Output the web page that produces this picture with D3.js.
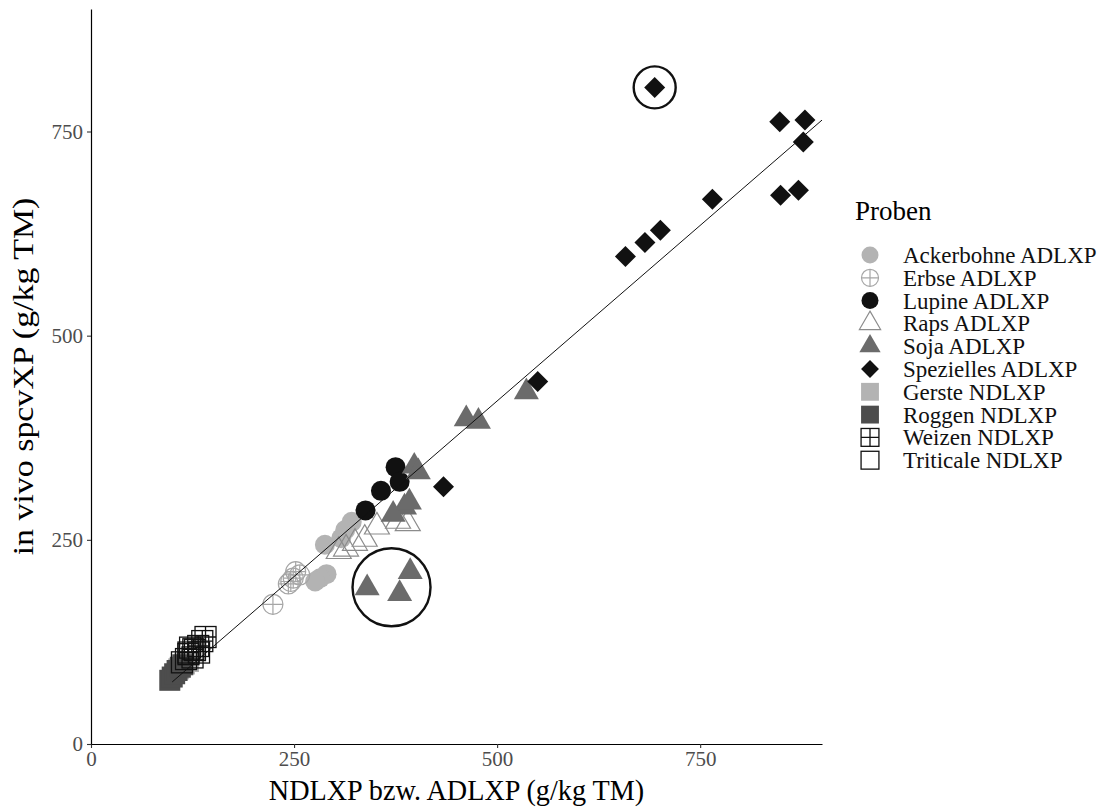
<!DOCTYPE html>
<html>
<head>
<meta charset="utf-8">
<script src="https://cdn.jsdelivr.net/npm/d3@7/dist/d3.min.js"></script>
<style>
	body { margin: 0; background: #fff; }
	svg { display: block; }
</style>
</head>
<body>
<div id="chart"></div>
<script>
// data: [NDLXP or ADLXP, in vivo spcvXP] in g/kg TM
var ackerbohne = [[321, 272], [313, 262], [308, 252], [288, 244], [290, 208], [282, 203], [276, 199]];
var erbse = [[257, 207], [252, 211], [249, 203], [246, 199], [243, 196], [224, 171]];
var lupine = [[375, 339], [380, 321], [357, 310], [338, 286]];
var raps = [[390, 270], [378, 273], [352, 266], [337, 251], [325, 246], [314, 239], [305, 236]];
var soja = [[398, 340], [403, 333], [386, 290], [372, 281], [392, 296], [340, 191], [393, 211], [380, 184], [462, 398], [477, 395], [536, 431]];
var spezielles = [[694, 804], [848, 762], [879, 764], [877, 737], [849, 672], [871, 678], [765, 667], [701, 629], [682, 614], [658, 597], [550, 444], [434, 315]];
var gerste = [[108, 92], [115, 98], [120, 101]];
var roggen = [[97, 78], [100, 82], [103, 86], [106, 90], [110, 94], [113, 97]];
var weizen = [[120, 112], [126, 116], [132, 120], [137, 126], [141, 131]];
var triticale = [[112, 100], [117, 104], [120, 110], [125, 106], [128, 115], [133, 112], [122, 118]];

var legendLabels = ["Ackerbohne ADLXP", "Erbse ADLXP", "Lupine ADLXP", "Raps ADLXP", "Soja ADLXP",
	"Spezielles ADLXP", "Gerste NDLXP", "Roggen NDLXP", "Weizen NDLXP", "Triticale NDLXP"];
var tickValues = [0, 250, 500, 750];
var fitIntercept = -10, fitSlope = 0.86, fitRange = [100, 900];
var highlightCenters = [[694, 804], [370, 192]];

// shape + colour for each series, same order as legend
var series = [
	{ data: ackerbohne, shape: "circle", fill: "#b3b3b3" },
	{ data: erbse, shape: "circleplus", stroke: "#a6a6a6" },
	{ data: lupine, shape: "circle", fill: "#111" },
	{ data: raps, shape: "opentriangle", stroke: "#8c8c8c" },
	{ data: soja, shape: "triangle", fill: "#6b6b6b" },
	{ data: spezielles, shape: "diamond", fill: "#111" },
	{ data: gerste, shape: "square", fill: "#b3b3b3" },
	{ data: roggen, shape: "square", fill: "#4d4d4d" },
	{ data: weizen, shape: "squareplus", stroke: "#111" },
	{ data: triticale, shape: "opensquare", stroke: "#111" }
];

var width = 1118, height = 812;
var margins = { left: 91, right: 296, top: 9, bottom: 68 };
var font = "'Liberation Serif', 'Times New Roman', serif";

var svg = d3.select("#chart").append("svg")
	.attr("width", width)
	.attr("height", height)
	.style("font-family", font);

var x = d3.scaleLinear().domain([0, 900]).range([margins.left, width - margins.right]);
var y = d3.scaleLinear().domain([0, 900]).range([height - margins.bottom, margins.top]);

function drawShape(g, s, k) {
	k = k || 1;
	var r = 10 * k;
	if (s.shape === "circle") {
		g.append("circle").attr("r", r).attr("fill", s.fill);
	} else if (s.shape === "circleplus") {
		g.append("circle").attr("r", r).attr("fill", "none").attr("stroke", s.stroke).attr("stroke-width", 1.2);
		g.append("path").attr("d", "M" + (-r) + ",0H" + r + "M0," + (-r) + "V" + r)
			.attr("stroke", s.stroke).attr("stroke-width", 1.2);
	} else if (s.shape === "triangle" || s.shape === "opentriangle") {
		var side = 25 * k, h = side * Math.sqrt(3) / 2;
		var d = "M0," + (-2 * h / 3) + "L" + (side / 2) + "," + (h / 3) + "L" + (-side / 2) + "," + (h / 3) + "Z";
		if (s.shape === "triangle") {
			g.append("path").attr("d", d).attr("fill", s.fill);
		} else {
			g.append("path").attr("d", d).attr("fill", "none").attr("stroke", s.stroke).attr("stroke-width", 1.2);
		}
	} else if (s.shape === "diamond") {
		var q = 10.5 * k;
		g.append("path").attr("d", "M0," + (-q) + "L" + q + ",0L0," + q + "L" + (-q) + ",0Z").attr("fill", s.fill);
	} else {
		var a = 10.5 * k;
		if (s.shape === "square") {
			g.append("rect").attr("x", -a).attr("y", -a).attr("width", 2 * a).attr("height", 2 * a).attr("fill", s.fill);
		} else {
			g.append("rect").attr("x", -a).attr("y", -a).attr("width", 2 * a).attr("height", 2 * a)
				.attr("fill", "none").attr("stroke", s.stroke).attr("stroke-width", 1.3);
			if (s.shape === "squareplus") {
				g.append("path").attr("d", "M" + (-a) + ",0H" + a + "M0," + (-a) + "V" + a)
					.attr("stroke", s.stroke).attr("stroke-width", 1.3);
			}
		}
	}
}

// points
var pts = svg.append("g").attr("class", "points");
series.forEach(function(s) {
	s.data.forEach(function(p) {
		var g = pts.append("g").attr("transform", "translate(" + x(p[0]) + "," + y(p[1]) + ")");
		drawShape(g, s);
	});
});

// fitted line
svg.append("line")
	.attr("x1", x(fitRange[0])).attr("y1", y(fitIntercept + fitSlope * fitRange[0]))
	.attr("x2", x(fitRange[1])).attr("y2", y(fitIntercept + fitSlope * fitRange[1]))
	.attr("stroke", "#111").attr("stroke-width", 1);

// highlight circles
svg.selectAll(".hl").data(highlightCenters).enter()
	.append("circle")
		.attr("class", "hl")
		.attr("cx", function(d) { return x(d[0]); })
		.attr("cy", function(d) { return y(d[1]); })
		.attr("r", function(d, i) { return i === 0 ? 21 : 39; })
		.attr("fill", "none")
		.attr("stroke", "#111")
		.attr("stroke-width", 2.4);

// axes
var xAxis = d3.axisBottom(x).tickValues(tickValues).tickSize(4).tickSizeOuter(0).tickPadding(3);
var yAxis = d3.axisLeft(y).tickValues(tickValues).tickSize(4).tickSizeOuter(0).tickPadding(4);

var gx = svg.append("g").attr("transform", "translate(0," + (height - margins.bottom) + ")").call(xAxis);
var gy = svg.append("g").attr("transform", "translate(" + margins.left + ",0)").call(yAxis);
[gx, gy].forEach(function(g) {
	g.select(".domain").attr("stroke", "#000").attr("stroke-width", 1.2);
	g.selectAll(".tick line").attr("stroke", "#333").attr("stroke-width", 1.1);
	g.selectAll(".tick text")
		.attr("fill", "#4d4d4d")
		.style("font-family", font)
		.style("font-size", "21px");
});

// axis titles (the reference looks slightly stretched vertically)
svg.append("text")
	.attr("transform", "translate(" + ((x.range()[0] + x.range()[1]) / 2) + ",800) scale(0.94,1)")
	.attr("text-anchor", "middle")
	.style("font-size", "30px")
	.text("NDLXP bzw. ADLXP (g/kg TM)");

svg.append("text")
	.attr("transform", "translate(33," + ((y.range()[0] + y.range()[1]) / 2) + ") rotate(-90) scale(1.13,1)")
	.attr("text-anchor", "middle")
	.style("font-size", "30px")
	.text("in vivo spcvXP (g/kg TM)");

// legend
var legend = svg.append("g").attr("class", "legend");
legend.append("text")
	.attr("x", 855).attr("y", 220)
	.style("font-size", "27px")
	.text("Proben");

series.forEach(function(s, i) {
	var ly = 255 + i * 22.8;
	var g = legend.append("g").attr("transform", "translate(870," + ly + ")");
	drawShape(g, s, 0.85);
	legend.append("text")
		.attr("x", 903).attr("y", ly)
		.attr("dy", "0.35em")
		.style("font-size", "23px")
		.attr("fill", "#111")
		.text(legendLabels[i]);
});
</script>
</body>
</html>
